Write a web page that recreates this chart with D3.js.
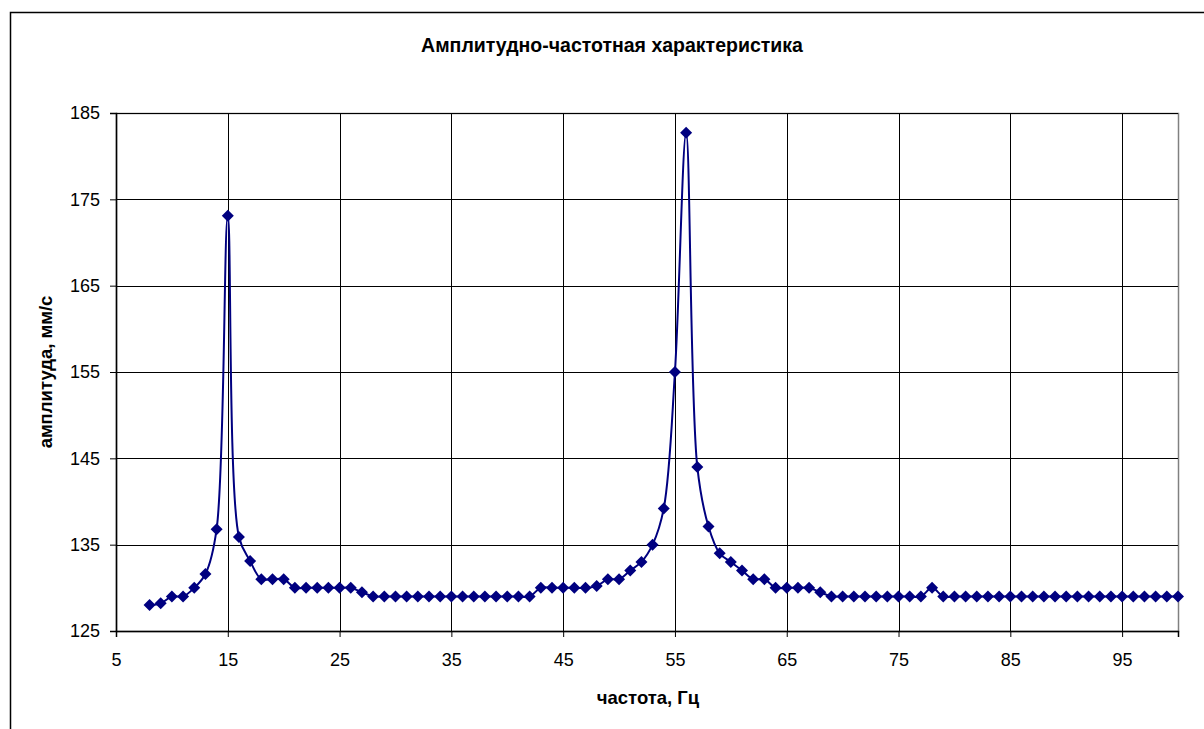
<!DOCTYPE html>
<html>
<head>
<meta charset="utf-8">
<script src="https://cdn.jsdelivr.net/npm/d3@7"></script>
<style>
    body { margin: 0; background: #fff; }
    svg { display: block; font-family: Arial, "Liberation Sans", sans-serif; }
</style>
</head>
<body>
<div id="chart"></div>
<script>
// chart data
let chartTitle = "Амплитудно-частотная характеристика";
let xTitle = "частота, Гц";
let yTitle = "амплитуда, мм/с";

let freq = d3.range(8, 101); // 8..100 Hz, one point per Hz
let amp = [
    128, 128.2, 129, 129, 130, 131.6, 136.8, 173.1, 135.9, 133.1,   // 8-17
    131, 131, 131, 130, 130, 130, 130, 130, 130, 129.5,              // 18-27
    129, 129, 129, 129, 129, 129, 129, 129, 129, 129,                // 28-37
    129, 129, 129, 129, 129, 130, 130, 130, 130, 130,                // 38-47
    130.2, 131, 131, 132, 133, 135, 139.2, 155, 182.7, 144,          // 48-57
    137.1, 134, 133, 132, 131, 131, 130, 130, 130, 130,              // 58-67
    129.5, 129, 129, 129, 129, 129, 129, 129, 129, 129,              // 68-77
    130, 129, 129, 129, 129, 129, 129, 129, 129, 129,                // 78-87
    129, 129, 129, 129, 129, 129, 129, 129, 129, 129,                // 88-97
    129, 129, 129                                                    // 98-100
];
let xTicks = [5, 15, 25, 35, 45, 55, 65, 75, 85, 95];
let yTicks = [125, 135, 145, 155, 165, 175, 185];

let data = freq.map((f, i) => ({f: f, a: amp[i]}));

let W = 1204, H = 729;
let margin = {top: 113, right: 26, bottom: 98, left: 116};
let width = W - margin.left - margin.right;
let height = H - margin.top - margin.bottom;

let svg = d3.select("#chart").append("svg")
    .attr("width", W)
    .attr("height", H);

// outer chart frame
svg.append("rect")
    .attr("x", 10.5).attr("y", 12.5)
    .attr("width", W + 20).attr("height", H + 20)
    .attr("fill", "none")
    .attr("stroke", "#000")
    .attr("stroke-width", 1.5);

svg.append("text")
    .attr("x", 612).attr("y", 52)
    .attr("text-anchor", "middle")
    .attr("font-size", 19.5)
    .attr("font-weight", "bold")
    .text(chartTitle);

let g = svg.append("g")
    .attr("transform", `translate(${margin.left}, ${margin.top})`);

let x = d3.scaleLinear().domain([5, 100]).range([0, width]);
let y = d3.scaleLinear().domain([125, 185]).range([height, 0]);

// plot area border
g.append("rect")
    .attr("x", 0.5).attr("y", 0.5)
    .attr("width", width).attr("height", height)
    .attr("fill", "none")
    .attr("stroke", "#808080")
    .attr("stroke-width", 1.5);

// gridlines
g.selectAll(".hgrid")
    .data(yTicks)
    .enter().append("line")
    .attr("class", "hgrid")
    .attr("x1", 0).attr("x2", width)
    .attr("y1", d => Math.round(y(d)) + 0.5)
    .attr("y2", d => Math.round(y(d)) + 0.5)
    .attr("stroke", "#000");

g.selectAll(".vgrid")
    .data(xTicks)
    .enter().append("line")
    .attr("class", "vgrid")
    .attr("y1", 0).attr("y2", height)
    .attr("x1", d => Math.round(x(d)) + 0.5)
    .attr("x2", d => Math.round(x(d)) + 0.5)
    .attr("stroke", "#000");

// axes
let xAxis = d3.axisBottom(x).tickValues(xTicks).tickSize(6).tickPadding(16);
let yAxis = d3.axisLeft(y).tickValues(yTicks).tickSize(6).tickPadding(10);

let xg = g.append("g")
    .attr("transform", `translate(0, ${height})`)
    .call(xAxis);
let yg = g.append("g").call(yAxis);

[xg, yg].forEach(a => {
    a.select(".domain").attr("stroke", "#000").attr("stroke-width", 1.5);
    a.selectAll(".tick line").attr("stroke", "#000");
    a.selectAll(".tick text")
        .attr("font-size", 18)
        .attr("font-family", "Arial, 'Liberation Sans', sans-serif")
        .attr("fill", "#000");
});

// axis titles
svg.append("text")
    .attr("x", 648).attr("y", 704)
    .attr("text-anchor", "middle")
    .attr("font-size", 18.5)
    .attr("font-weight", "bold")
    .text(xTitle);

svg.append("text")
    .attr("transform", "translate(52, 372) rotate(-90)")
    .attr("text-anchor", "middle")
    .attr("font-size", 18.5)
    .attr("font-weight", "bold")
    .text(yTitle);

// smoothed line
g.append("path")
    .datum(data)
    .attr("fill", "none")
    .attr("stroke", "#000080")
    .attr("stroke-width", 2)
    .attr("d", d3.line()
        .curve(d3.curveCatmullRom.alpha(0.5))
        .x(d => x(d.f))
        .y(d => y(d.a)));

// diamond markers
g.selectAll(".marker")
    .data(data)
    .enter().append("path")
    .attr("class", "marker")
    .attr("transform", d => `translate(${x(d.f)}, ${y(d.a)})`)
    .attr("d", "M0,-6L6,0L0,6L-6,0Z")
    .attr("fill", "#000080");
</script>
</body>
</html>
